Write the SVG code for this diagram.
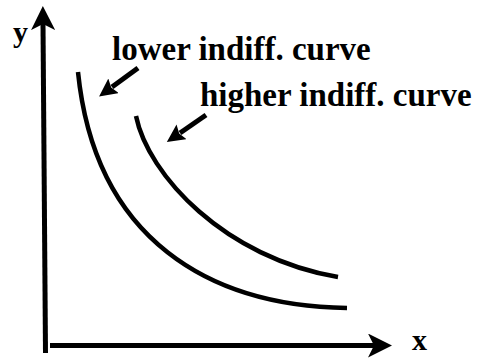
<svg xmlns="http://www.w3.org/2000/svg" width="478" height="361" viewBox="0 0 478 361">
<style>
.lbl{font-family:"Liberation Serif","Times New Roman",serif;font-weight:bold;fill:#000}
.ax{stroke:#000;stroke-width:5;fill:none}
.crv{stroke:#000;stroke-width:4.5;fill:none}
.ptr{stroke:#000;stroke-width:5;fill:none}
</style>
<defs>
<marker id="axhead" markerUnits="userSpaceOnUse" viewBox="0 0 24 24" refX="6" refY="12" markerWidth="24" markerHeight="24" orient="auto">
<path d="M0,0 L24,12 L0,24 L6,12 Z" fill="#000"/>
</marker>
<marker id="ptrhead" markerUnits="userSpaceOnUse" viewBox="0 0 18 18" refX="2" refY="9" markerWidth="18" markerHeight="18" orient="auto">
<path d="M0,0 L18,9 L0,18 L3,9 Z" fill="#000"/>
</marker>
</defs>
<rect width="478" height="361" fill="#fff"/>
<g id="connectors">
<line id="y-axis" class="ax" x1="45.5" y1="353" x2="43" y2="24" marker-end="url(#axhead)"/>
<line id="x-axis" class="ax" x1="50" y1="345.5" x2="374" y2="345.5" marker-end="url(#axhead)"/>
<line id="ptr-lower" class="ptr" x1="138" y1="68" x2="112" y2="87" marker-end="url(#ptrhead)"/>
<line id="ptr-higher" class="ptr" x1="206" y1="115" x2="180" y2="133" marker-end="url(#ptrhead)"/>
</g>
<g id="lower-curve">
<path class="crv" d="M78,72 C95,240 210,306 347,308"/>
</g>
<g id="higher-curve">
<path class="crv" d="M136,116 C148,175 225,258 338,277"/>
</g>
<g id="label-y"><text class="lbl" x="13" y="42" font-size="30">y</text></g>
<g id="label-x"><text class="lbl" x="412" y="350" font-size="30">x</text></g>
<g id="label-lower"><text class="lbl" x="112" y="60" font-size="33">lower indiff. curve</text></g>
<g id="label-higher"><text class="lbl" x="200" y="106" font-size="33">higher indiff. curve</text></g>
</svg>
